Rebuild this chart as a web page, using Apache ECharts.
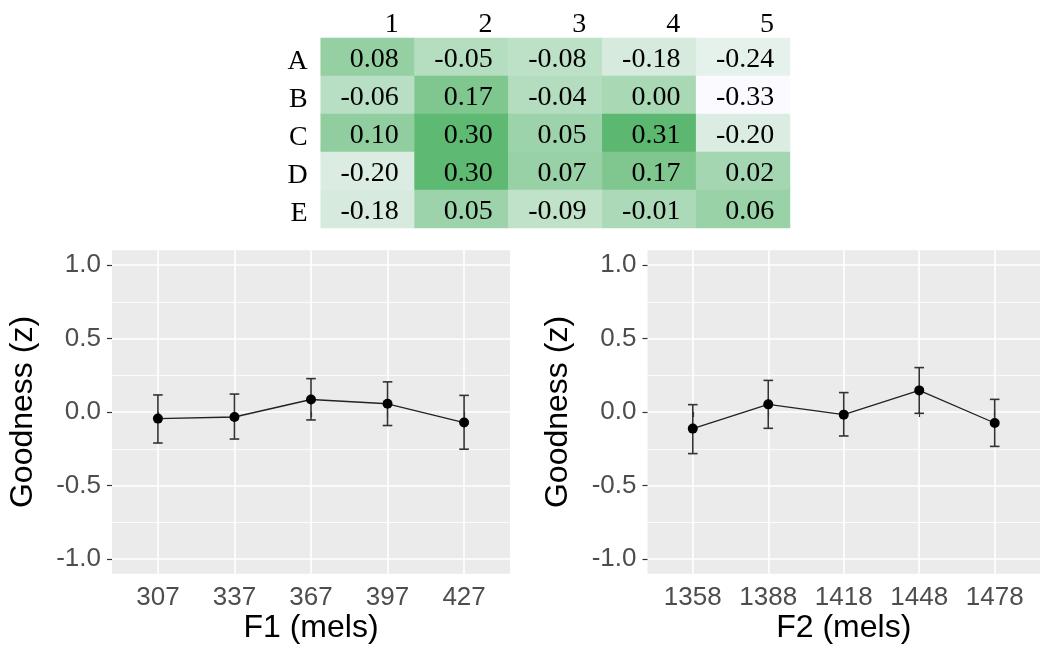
<!DOCTYPE html>
<html>
<head>
<meta charset="utf-8">
<script src="https://cdn.jsdelivr.net/npm/echarts@6/dist/echarts.min.js"></script>
<style>html,body{margin:0;padding:0;background:#fff;}#c{width:1040px;height:647px;}</style>
</head>
<body>
<div id="c"></div>
<script>
// ---- heatmap data ----
const hmCols = ['1', '2', '3', '4', '5'];
const hmRows = ['A', 'B', 'C', 'D', 'E'];
const rowA = [0.08, -0.05, -0.08, -0.18, -0.24];
const rowB = [-0.06, 0.17, -0.04, 0.00, -0.33];
const rowC = [0.10, 0.30, 0.05, 0.31, -0.20];
const rowD = [-0.20, 0.30, 0.07, 0.17, 0.02];
const rowE = [-0.18, 0.05, -0.09, -0.01, 0.06];

// ---- F1 panel ----
const f1Ticks = [307, 337, 367, 397, 427];
const f1Mean = [-0.045, -0.034, 0.085, 0.056, -0.072];
const f1Lower = [-0.211, -0.184, -0.054, -0.092, -0.253];
const f1Upper = [0.116, 0.122, 0.227, 0.205, 0.113];

// ---- F2 panel ----
const f2Ticks = [1358, 1388, 1418, 1448, 1478];
const f2Mean = [-0.113, 0.052, -0.018, 0.147, -0.075];
const f2Lower = [-0.283, -0.111, -0.163, -0.009, -0.234];
const f2Upper = [0.050, 0.215, 0.132, 0.302, 0.086];

const yMajor = [-1, -0.5, 0, 0.5, 1];
const yMinor = [-0.75, -0.25, 0.25, 0.75];
const yTickLabels = ['-1.0', '-0.5', '0.0', '0.5', '1.0'];

const hmRowsData = [rowA, rowB, rowC, rowD, rowE];
const hmData = [];
hmRowsData.forEach((r, ri) => r.forEach((v, ci) => hmData.push([ci, ri, v])));

const SANS = '"Liberation Sans", Arial, sans-serif';
const SERIF = '"Liberation Serif", "Times New Roman", serif';

function xAxisFor(gi, ticks, name) {
  const step = ticks[1] - ticks[0];
  return {
    type: 'value', gridIndex: gi,
    min: ticks[0] - 0.6 * step, max: ticks[ticks.length - 1] + 0.6 * step,
    name: name, nameLocation: 'middle', nameGap: 38,
    nameTextStyle: { fontSize: 32, color: '#000', fontFamily: SANS },
    axisLine: { show: false },
    axisTick: { show: true, customValues: ticks, length: 5, lineStyle: { color: '#333', width: 1.2 } },
    axisLabel: { customValues: ticks, margin: 11, fontSize: 26, color: '#4D4D4D', fontFamily: SANS,
      formatter: v => String(v) },
    splitLine: { show: true, lineStyle: { color: '#fff', width: 1.6 } }
  };
}
function yAxisFor(gi) {
  return {
    type: 'value', gridIndex: gi, min: -1.1, max: 1.1,
    name: 'Goodness (z)', nameLocation: 'middle', nameGap: 73,
    nameTextStyle: { fontSize: 32, color: '#000', fontFamily: SANS },
    axisLine: { show: false },
    axisTick: { show: true, customValues: yMajor, length: 5, lineStyle: { color: '#333', width: 1.2 } },
    axisLabel: { customValues: yMajor, margin: 11, fontSize: 26, color: '#4D4D4D', fontFamily: SANS,
      formatter: v => yTickLabels[yMajor.indexOf(Math.round(v * 100) / 100)] || v.toFixed(1) },
    splitLine: { show: true, lineStyle: { color: '#fff', width: 1.6 } }
  };
}
function yMinorAxisFor(gi) {
  return {
    type: 'value', gridIndex: gi, min: -1.1, max: 1.1, position: 'left',
    axisLine: { show: false },
    axisTick: { show: false, customValues: yMinor },
    axisLabel: { show: false, customValues: yMinor },
    splitLine: { show: true, lineStyle: { color: '#fff', width: 0.8 } }
  };
}
function errSeries(xi, yi, ticks, lo, hi) {
  return {
    type: 'custom', xAxisIndex: xi, yAxisIndex: yi, z: 2,
    data: ticks.map((t, i) => [t, lo[i], hi[i]]),
    encode: { x: 0, y: [1, 2] },
    renderItem: function (params, api) {
      const x = api.value(0);
      const top = api.coord([x, api.value(2)]);
      const bot = api.coord([x, api.value(1)]);
      const w = 4.8;
      const st = { stroke: '#333', lineWidth: 1.6 };
      return {
        type: 'group', children: [
          { type: 'line', shape: { x1: top[0], y1: top[1], x2: bot[0], y2: bot[1] }, style: st },
          { type: 'line', shape: { x1: top[0] - w, y1: top[1], x2: top[0] + w, y2: top[1] }, style: st },
          { type: 'line', shape: { x1: bot[0] - w, y1: bot[1], x2: bot[0] + w, y2: bot[1] }, style: st }
        ]
      };
    }
  };
}
function lineSeries(xi, yi, ticks, mean) {
  return {
    type: 'line', xAxisIndex: xi, yAxisIndex: yi, z: 3,
    data: ticks.map((t, i) => [t, mean[i]]),
    symbol: 'circle', symbolSize: 10,
    itemStyle: { color: '#000' },
    lineStyle: { color: '#222', width: 1.3 },
    emphasis: { disabled: true }, animation: false
  };
}

const chart = echarts.init(document.getElementById('c'), null, { renderer: 'canvas' });
chart.setOption({
  animation: false,
  backgroundColor: '#fff',
  grid: [
    { left: 320.7, top: 38, width: 469.3, height: 190, show: false },
    { left: 112, top: 250.3, width: 398, height: 323.4, show: true, backgroundColor: '#EBEBEB', borderWidth: 0 },
    { left: 647.5, top: 250.3, width: 398, height: 323.4, show: true, backgroundColor: '#EBEBEB', borderWidth: 0 }
  ],
  visualMap: {
    show: false, seriesIndex: 0, dimension: 2, min: -0.33, max: 0.31,
    inRange: { color: ['#FBFBFF', '#5CB870'] }
  },
  xAxis: [
    {
      type: 'category', gridIndex: 0, data: hmCols, position: 'top',
      axisLine: { show: false }, axisTick: { show: false }, splitLine: { show: false },
      axisLabel: { fontSize: 28, fontFamily: SERIF, color: '#000', margin: -1, align: 'right', padding: [0, -31, 0, 0] }
    },
    xAxisFor(1, f1Ticks, 'F1 (mels)'),
    xAxisFor(2, f2Ticks, 'F2 (mels)')
  ],
  yAxis: [
    {
      type: 'category', gridIndex: 0, data: hmRows, inverse: true,
      axisLine: { show: false }, axisTick: { show: false }, splitLine: { show: false },
      axisLabel: { fontSize: 28, fontFamily: SERIF, color: '#000', margin: 13,
        verticalAlign: 'top', lineHeight: 10, formatter: v => v }
    },
    yAxisFor(1),
    yAxisFor(2),
    yMinorAxisFor(1),
    yMinorAxisFor(2)
  ],
  series: [
    {
      type: 'heatmap', xAxisIndex: 0, yAxisIndex: 0, data: hmData,
      label: {
        show: true, position: 'insideRight', distance: 16, offset: [0, 3],
        formatter: p => p.value[2].toFixed(2),
        fontSize: 28, fontFamily: SERIF, color: '#000'
      },
      itemStyle: { borderWidth: 0 },
      emphasis: { disabled: true }
    },
    errSeries(1, 1, f1Ticks, f1Lower, f1Upper),
    lineSeries(1, 1, f1Ticks, f1Mean),
    errSeries(2, 2, f2Ticks, f2Lower, f2Upper),
    lineSeries(2, 2, f2Ticks, f2Mean)
  ]
});
</script>
</body>
</html>
